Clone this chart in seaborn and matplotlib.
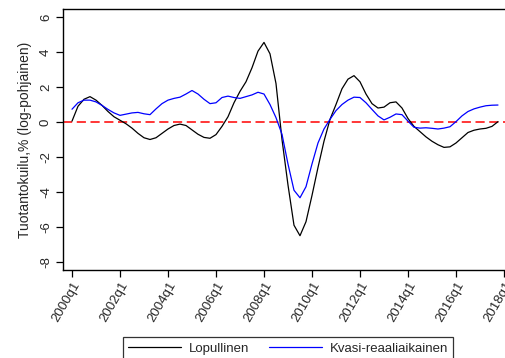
import numpy as np
import pandas as pd
import matplotlib
matplotlib.use("Agg")
import matplotlib.pyplot as plt
import seaborn as sns

# Output gap estimates, quarterly 2000q1-2017q4 (%)
lopullinen = [
    0.05, 0.9, 1.3, 1.45, 1.25, 0.95, 0.6, 0.3, 0.1, -0.1,
    -0.35, -0.65, -0.9, -1.0, -0.9, -0.65, -0.4, -0.2, -0.12, -0.2,
    -0.45, -0.7, -0.88, -0.93, -0.72, -0.25, 0.3, 1.1, 1.75, 2.3,
    3.1, 4.05, 4.55, 3.9, 2.2, -1.0, -3.6, -5.9, -6.5, -5.7,
    -4.2, -2.6, -1.1, 0.15, 1.0, 1.9, 2.45, 2.65, 2.3, 1.6,
    1.05, 0.8, 0.85, 1.1, 1.15, 0.8, 0.2, -0.25, -0.55, -0.85,
    -1.1, -1.3, -1.45, -1.42, -1.2, -0.9, -0.6, -0.47, -0.4, -0.36,
    -0.25, 0.02,
]
kvasi = [
    0.73, 1.1, 1.25, 1.25, 1.15, 0.95, 0.72, 0.52, 0.38, 0.45,
    0.52, 0.55, 0.47, 0.42, 0.75, 1.05, 1.25, 1.35, 1.42, 1.6,
    1.8, 1.6, 1.3, 1.05, 1.1, 1.4, 1.48, 1.4, 1.35, 1.45,
    1.55, 1.7, 1.6, 1.0, 0.25, -0.7, -2.4, -3.9, -4.33, -3.7,
    -2.4, -1.2, -0.4, 0.15, 0.65, 1.0, 1.25, 1.42, 1.4, 1.1,
    0.72, 0.35, 0.12, 0.27, 0.46, 0.42, 0.05, -0.3, -0.35, -0.33,
    -0.36, -0.4, -0.35, -0.27, 0.02, 0.35, 0.6, 0.75, 0.85, 0.93,
    0.96, 0.97,
]
quarters = np.arange(len(lopullinen))
tick_pos = list(range(0, 73, 8))
tick_labels = ["2000q1", "2002q1", "2004q1", "2006q1", "2008q1",
               "2010q1", "2012q1", "2014q1", "2016q1", "2018q1"]
y_ticks = [-8, -6, -4, -2, 0, 2, 4, 6]
series_names = ["Lopullinen", "Kvasi-reaaliaikainen"]

df = pd.DataFrame({
    "q": np.concatenate([quarters, quarters]),
    "gap": lopullinen + kvasi,
    "sarja": [series_names[0]] * len(lopullinen) + [series_names[1]] * len(kvasi),
})

sns.set_style("white")
plt.rcParams["font.family"] = ["Liberation Sans", "DejaVu Sans"]

fig = plt.figure(figsize=(5.05, 3.58), dpi=100)
ax = fig.add_axes([63 / 505, 1 - 270 / 358, 442 / 505, 261 / 358])

sns.lineplot(data=df, x="q", y="gap", hue="sarja", hue_order=series_names,
             palette=["black", "blue"], linewidth=0.9, ax=ax, legend=False)
ax.axhline(0, color="red", linestyle=(0, (6, 3)), linewidth=1.1, zorder=1)

ax.set_xlim(-1.5, 72.17)
ax.set_ylim(-8.46, 6.46)
ax.set_xticks(tick_pos)
ax.set_xticklabels(tick_labels, rotation=60, ha="right", rotation_mode="anchor",
                   fontsize=9.5)
ax.set_yticks(y_ticks)
ax.set_yticklabels([str(v) for v in y_ticks], rotation=90, va="center",
                   fontsize=9.5)
ax.tick_params(axis="both", direction="out", length=5, width=0.9,
               color="black", left=True, bottom=True)
ax.tick_params(axis="x", pad=2)
ax.tick_params(axis="y", pad=3)
ax.set_xlabel("")
ax.set_ylabel("Tuotantokuilu,% (log-pohjainen)", fontsize=10, labelpad=6)

for side in ["left", "bottom", "top"]:
    ax.spines[side].set_visible(True)
    ax.spines[side].set_color("black")
    ax.spines[side].set_linewidth(1.0)
ax.spines["right"].set_visible(False)

# Legend box sits at the bottom edge of the figure; its lower border runs off the canvas
handles = [plt.Line2D([], [], color="black", linewidth=0.9),
           plt.Line2D([], [], color="blue", linewidth=0.9)]
leg = fig.legend(handles, series_names, loc="upper center",
                 bbox_to_anchor=(288 / 505, 1 - 337 / 358), ncol=2,
                 fontsize=9.5, frameon=True, fancybox=False, handlelength=4.0,
                 columnspacing=1.5, borderpad=0.4, handletextpad=0.6,
                 borderaxespad=0.0)
leg.get_frame().set_edgecolor("black")
leg.get_frame().set_linewidth(0.9)

fig.savefig("out.png", dpi=100, facecolor="white")
